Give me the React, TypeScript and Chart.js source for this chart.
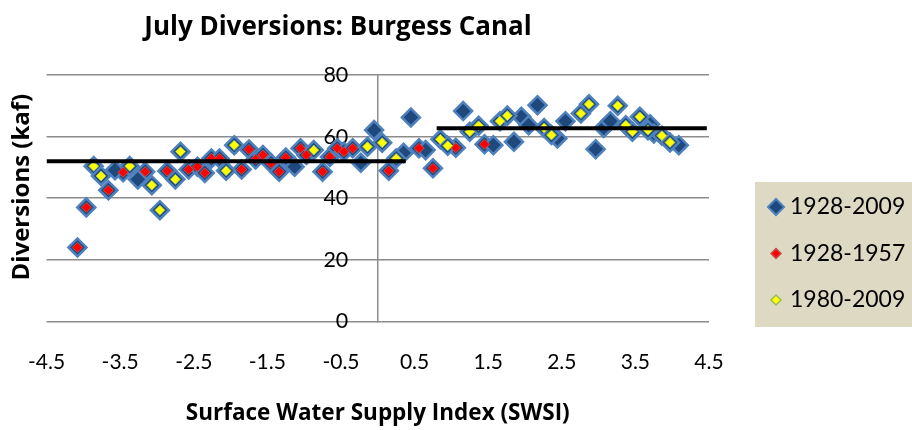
import React, { useEffect, useRef } from "react";
import { Chart, registerables } from "chart.js";

Chart.register(...registerables);

const TITLE = "July Diversions: Burgess Canal";
const X_TITLE = "Surface Water Supply Index (SWSI)";
const Y_TITLE = "Diversions (kaf)";

const X_TICKS = [-4.5, -3.5, -2.5, -1.5, -0.5, 0.5, 1.5, 2.5, 3.5, 4.5];
const Y_TICKS = [0, 20, 40, 60, 80];

const SERIES_LABELS = ["1928-2009", "1928-1957", "1980-2009"];

// 1928-1957 (red)
const swsiEarly = [-4.08, -3.96, -3.66, -3.46, -3.16, -2.86, -2.57, -2.45, -2.35, -2.26, -2.15, -1.85, -1.75, -1.66, -1.56, -1.45, -1.34, -1.25, -1.05, -0.97, -0.75, -0.65, -0.55, -0.46, -0.34, 0.15, 0.56, 0.75, 1.06, 1.45];
const divEarly = [24, 37, 42.6, 48.4, 48.6, 48.8, 49.3, 50.2, 48.2, 52.9, 52.9, 49.3, 55.8, 52.6, 54, 51.3, 48.6, 53.2, 56.2, 54, 48.6, 53.4, 56.2, 55.1, 56.2, 48.9, 56.2, 49.7, 56.4, 57.5];

// 1980-2009 (yellow)
const swsiLate = [-3.86, -3.76, -3.37, -3.07, -2.96, -2.75, -2.68, -2.06, -1.95, -0.87, -0.14, 0.06, 0.25, 0.85, 0.95, 1.25, 1.37, 1.66, 1.76, 2.26, 2.36, 2.76, 2.87, 3.26, 3.37, 3.46, 3.56, 3.67, 3.86, 3.97];
const divLate = [50.4, 47.2, 50.4, 44.2, 36.1, 46.1, 55.1, 48.9, 57.2, 55.6, 56.7, 58, 52.9, 59.1, 57, 61.6, 63.5, 65, 66.8, 62.8, 60.5, 67.5, 70.5, 70, 63.7, 61.6, 66.4, 62.1, 60.3, 58.1];

// 1958-1979 (only in the full record)
const swsiMid = [-3.57, -3.26, -1.13, -0.23, -0.05, 0.35, 0.45, 0.65, 1.16, 1.57, 1.85, 1.95, 2.05, 2.17, 2.44, 2.55, 2.96, 3.07, 3.16, 3.7, 3.75, 4.09];
const divMid = [49.1, 46.1, 50.2, 51.5, 62.1, 54.7, 66.2, 55.6, 68.3, 57.2, 58.3, 66.4, 63.7, 70.2, 59.4, 65, 55.9, 62.8, 65, 64, 61, 57.2];

// average lines (dry years / wet years)
const trendDryX = [-4.5, 0.38];
const trendDryY = [52, 52];
const trendWetX = [0.8, 4.47];
const trendWetY = [62.7, 62.7];

const FONT = "Lato, 'Open Sans', sans-serif";
const BOLD_FONT = "'Open Sans', Lato, sans-serif";
const GRID = "#8c8c8c";

const toPoints = (xs: number[], ys: number[]) => xs.map((x, i) => ({ x, y: ys[i] }));

const titlePlugin = {
  id: "mainTitle",
  afterDraw(chart: any) {
    const ctx = chart.ctx;
    const ca = chart.chartArea;
    ctx.save();
    ctx.fillStyle = "#000";
    ctx.font = `bold 26px ${BOLD_FONT}`;
    ctx.textAlign = "center";
    ctx.textBaseline = "middle";
    ctx.fillText(TITLE, 338, 28);
    // vertical axis title
    ctx.translate(22, (ca.top + ca.bottom) / 2 - 11);
    ctx.rotate(-Math.PI / 2);
    ctx.font = `bold 24px ${BOLD_FONT}`;
    ctx.fillText(Y_TITLE, 0, 0);
    ctx.restore();
  },
};

const legendPlugin = {
  id: "boxLegend",
  afterDraw(chart: any) {
    const ctx = chart.ctx;
    const left = chart.chartArea.right + 46;
    const top = 182;
    const w = chart.width - left;
    const h = 145;
    ctx.save();
    ctx.fillStyle = "#DDD9C3";
    ctx.fillRect(left, top, w, h);
    [0, 1, 2].forEach((di, i) => {
      const ds = chart.data.datasets[di];
      const cy = top + 25 + i * 46.5;
      const cx = left + 21;
      const r = di === 0 ? 8 : 5;
      ctx.beginPath();
      ctx.moveTo(cx - r, cy);
      ctx.lineTo(cx, cy - r);
      ctx.lineTo(cx + r, cy);
      ctx.lineTo(cx, cy + r);
      ctx.closePath();
      ctx.fillStyle = ds.backgroundColor;
      ctx.fill();
      ctx.lineWidth = di === 0 ? 2 : 1.5;
      ctx.strokeStyle = ds.borderColor;
      ctx.stroke();
      ctx.fillStyle = "#000";
      ctx.font = `23px ${FONT}`;
      ctx.textAlign = "left";
      ctx.textBaseline = "middle";
      ctx.fillText(ds.label, left + 35, cy);
    });
    ctx.restore();
  },
};

export default function App() {
  const ref = useRef<HTMLCanvasElement | null>(null);

  useEffect(() => {
    if (!ref.current) return;
    const chart = new Chart(ref.current, {
      type: "scatter",
      data: {
        datasets: [
          {
            label: SERIES_LABELS[0],
            data: toPoints([...swsiEarly, ...swsiMid, ...swsiLate], [...divEarly, ...divMid, ...divLate]),
            backgroundColor: "#1F497D",
            borderColor: "#4F81BD",
            borderWidth: 2.5,
            pointStyle: "rectRot",
            pointRadius: 9,
            order: 3,
          },
          {
            label: SERIES_LABELS[1],
            data: toPoints(swsiEarly, divEarly),
            backgroundColor: "#FF0000",
            borderColor: "#C0504D",
            borderWidth: 1,
            pointStyle: "rectRot",
            pointRadius: 5,
            order: 2,
          },
          {
            label: SERIES_LABELS[2],
            data: toPoints(swsiLate, divLate),
            backgroundColor: "#FFFF00",
            borderColor: "#9BBB59",
            borderWidth: 1,
            pointStyle: "rectRot",
            pointRadius: 5,
            order: 1,
          },
          {
            type: "line",
            label: "dry",
            data: toPoints(trendDryX, trendDryY),
            borderColor: "#000",
            borderWidth: 4,
            pointRadius: 0,
            showLine: true,
            order: 0,
          } as any,
          {
            type: "line",
            label: "wet",
            data: toPoints(trendWetX, trendWetY),
            borderColor: "#000",
            borderWidth: 4,
            pointRadius: 0,
            showLine: true,
            order: 0,
          } as any,
        ],
      },
      options: {
        responsive: false,
        animation: false,
        layout: { padding: { top: 75, left: 42, right: 203, bottom: 5 } },
        plugins: { legend: { display: false }, title: { display: false }, tooltip: { enabled: false } },
        scales: {
          x: {
            type: "linear",
            position: "bottom",
            min: -4.5,
            max: 4.5,
            afterBuildTicks: (s: any) => {
              s.ticks = X_TICKS.map((v) => ({ value: v }));
            },
            grid: { display: false, drawTicks: false },
            border: { display: false },
            ticks: {
              padding: 28,
              color: "#000",
              font: { family: FONT, size: 21 },
              callback: (v: any) => String(v),
            },
            title: {
              display: true,
              text: X_TITLE,
              color: "#000",
              font: { family: BOLD_FONT, size: 22.5, weight: "bold", lineHeight: 1 },
              padding: { top: 0, bottom: 0 },
            },
          },
          y: {
            type: "linear",
            axis: "y",
            position: { x: 0 },
            min: 0,
            max: 80,
            afterBuildTicks: (s: any) => {
              s.ticks = Y_TICKS.map((v) => ({ value: v }));
            },
            ticks: { display: false },
            grid: { color: GRID, lineWidth: 1.5, drawTicks: false },
            border: { display: true, color: GRID, width: 1.5 },
          },
          yLabels: {
            type: "linear",
            axis: "y",
            position: { x: -0.4 },
            min: 0,
            max: 80,
            afterBuildTicks: (s: any) => {
              s.ticks = Y_TICKS.map((v) => ({ value: v }));
            },
            ticks: { color: "#000", font: { family: FONT, size: 21.5 } },
            grid: { display: false, drawTicks: false },
            border: { display: false },
          },
        } as any,
      },
      plugins: [titlePlugin, legendPlugin],
    });
    return () => chart.destroy();
  }, []);

  return (
    <div style={{ position: "fixed", left: 0, top: 0, width: 912, height: 430, background: "#fff" }}>
      <canvas ref={ref} width={912} height={430} />
    </div>
  );
}
